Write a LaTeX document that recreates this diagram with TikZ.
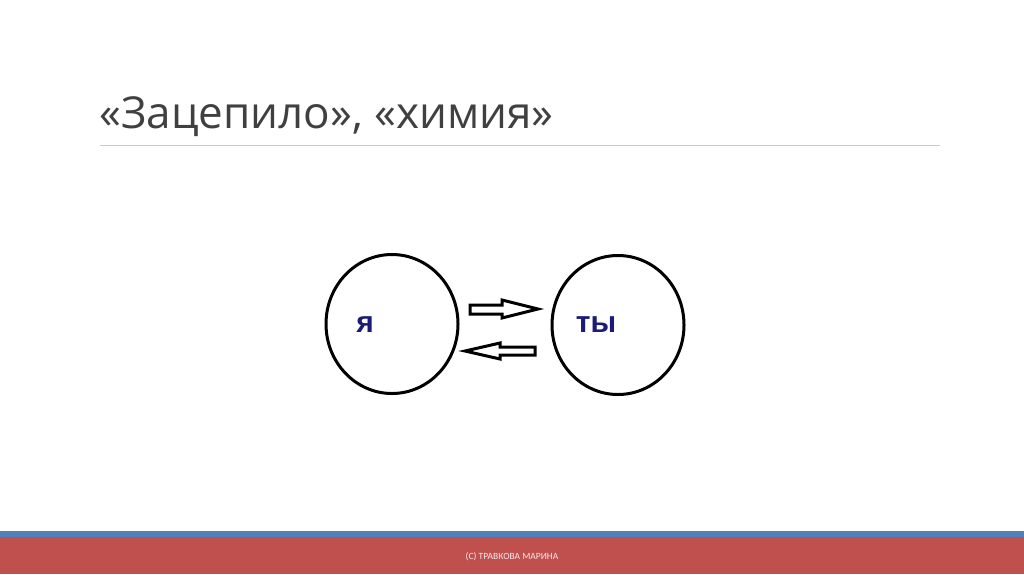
\documentclass[tikz,border=0pt]{standalone}
\usepackage{fontspec}
\setmainfont{Open Sans}
\newfontfamily\labfont{Liberation Sans}
\newfontfamily\footfont{Carlito}
\usetikzlibrary{shapes.geometric}
\definecolor{titlegray}{HTML}{404040}
\definecolor{rulegray}{HTML}{C8C8C8}
\definecolor{bandblue}{HTML}{4F81BD}
\definecolor{bandred}{HTML}{C0504D}
\definecolor{labblue}{HTML}{1C1C78}
\tikzset{
  blob/.style={ellipse, draw=black, line width=3pt, fill=white, minimum width=132pt, minimum height=139pt, inner sep=0pt},
  lab/.style={font=\labfont\bfseries\fontsize{30}{30}\selectfont, text=labblue, inner sep=0pt},
  blockarrow/.style={draw=black, line width=3pt, fill=white, line join=miter},
}
\begin{document}
\begin{tikzpicture}[x=1pt,y=-1pt]
\useasboundingbox (0,0) rectangle (1024,574);
\fill[white] (0,0) rectangle (1024,574);
% title
\node[anchor=base west, inner sep=0pt, text=titlegray, font=\fontsize{44}{44}\selectfont] (title) at (99,128) {«Зацепило», «химия»};
\coordinate (ruleL) at (100,145);
\coordinate (ruleR) at (940,145);
\draw[rulegray, line width=1pt] (ruleL) -- (ruleR);
% circles
\node[blob] (me) at (392,324) {};
\node[blob] (you) at (618,325) {};
\node[lab] (melab) at (365,325) {я};
\node[lab] (youlab) at (596,325) {ты};
% block arrows
\draw[blockarrow] (470,305) -- (502,305) -- (502,300) -- (538,309) -- (502,318) -- (502,314) -- (470,314) -- cycle;
\draw[blockarrow] (535,347) -- (500,347) -- (500,343) -- (465,351) -- (500,359) -- (500,355) -- (535,355) -- cycle;
% footer
\fill[bandblue] (0,531) rectangle (1024,537);
\fill[bandred] (0,537) rectangle (1024,574);
\node[font=\footfont\fontsize{9.5}{9.5}\selectfont, text=white!88!bandred, inner sep=0pt] (foot) at (512,557) {(C) ТРАВКОВА МАРИНА};
\end{tikzpicture}
\end{document}
